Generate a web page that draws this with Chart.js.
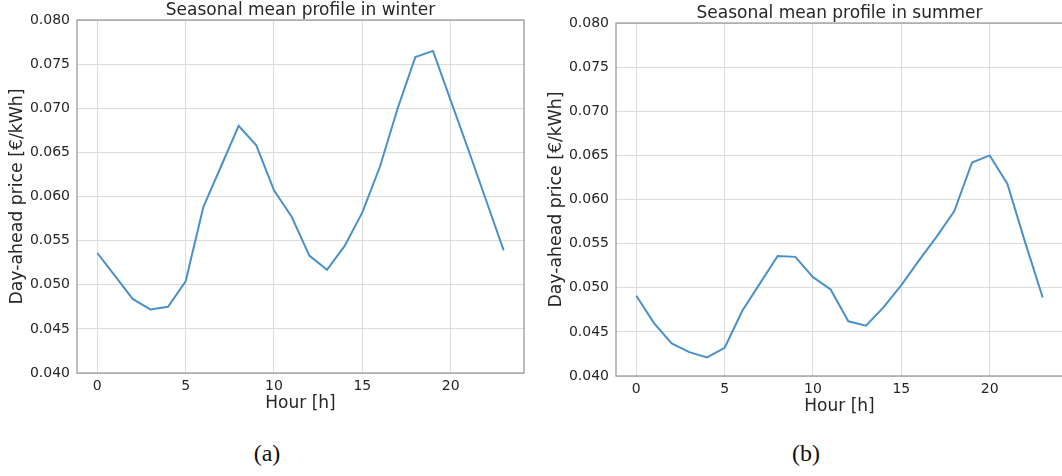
<!DOCTYPE html>
<html>
<head>
<meta charset="utf-8">
<script src="https://cdn.jsdelivr.net/npm/chart.js@4.4.1/dist/chart.umd.min.js"></script>
<style>
  html, body { margin: 0; padding: 0; background: #fff; width: 1062px; height: 476px; overflow: hidden; }
  .panel { position: absolute; width: 530px; height: 420px; }
  .caption { position: absolute; font-family: "Liberation Serif", serif; font-size: 24px; color: #111; transform: translateX(-50%); }
</style>
</head>
<body>
<div class="panel" style="left:0px; top:0px;"><canvas id="winter" width="530" height="420"></canvas></div>
<div class="panel" style="left:539px; top:3px;"><canvas id="summer" width="530" height="420"></canvas></div>
<div class="caption" style="left:267px; top:440px;">(a)</div>
<div class="caption" style="left:806px; top:440px;">(b)</div>
<script>
// hourly mean day-ahead prices
var hours = [0, 1, 2, 3, 4, 5, 6, 7, 8, 9, 10, 11, 12, 13, 14, 15, 16, 17, 18, 19, 20, 21, 22, 23];
var winterPrices = [0.0536, 0.0510, 0.0484, 0.0472, 0.0475, 0.0504, 0.0588, 0.0634, 0.0680, 0.0658, 0.0607, 0.0577, 0.0533, 0.0517, 0.0544, 0.0582, 0.0634, 0.0700, 0.0758, 0.0765, 0.0709, 0.0653, 0.0596, 0.0539];
var summerPrices = [0.0491, 0.0460, 0.0437, 0.0427, 0.0421, 0.0432, 0.0474, 0.0505, 0.0536, 0.0535, 0.0512, 0.0498, 0.0462, 0.0457, 0.0478, 0.0503, 0.0531, 0.0558, 0.0587, 0.0642, 0.0650, 0.0618, 0.0552, 0.0489];
var xTicks = [0, 5, 10, 15, 20];
var yTicks = [0.040, 0.045, 0.050, 0.055, 0.060, 0.065, 0.070, 0.075, 0.080];

var fontFamily = "'DejaVu Sans', sans-serif";
var textColor = "#262626";

// matplotlib draws a box all round the axes
var frame = {
    id: 'frame',
    afterDraw: function (chart) {
        var a = chart.chartArea;
        var ctx = chart.ctx;
        ctx.save();
        ctx.strokeStyle = '#9a9a9a';
        ctx.lineWidth = 1.3;
        ctx.strokeRect(a.left, a.top, a.right - a.left, a.bottom - a.top);
        ctx.restore();
    }
};

function makeChart(id, title, values) {
    var points = hours.map(function (h, i) { return { x: h, y: values[i] }; });
    return new Chart(id, {
        type: 'line',
        data: {
            datasets: [{
                data: points,
                borderColor: '#4a90c9',
                borderWidth: 2,
                pointRadius: 0,
                fill: false,
                tension: 0
            }]
        },
        plugins: [frame],
        options: {
            responsive: false,
            animation: false,
            layout: { padding: { left: 0, right: 6, top: 0, bottom: 0 } },
            plugins: {
                legend: { display: false },
                tooltip: { enabled: false },
                title: {
                    display: true,
                    text: title,
                    fullSize: false,
                    color: textColor,
                    font: { family: fontFamily, size: 17, weight: 'normal', lineHeight: 1.06 },
                    padding: { top: 2, bottom: 0 }
                }
            },
            scales: {
                x: {
                    type: 'linear',
                    min: -1.15,
                    max: 24.15,
                    afterBuildTicks: function (s) { s.ticks = xTicks.map(function (v) { return { value: v }; }); },
                    afterFit: function (s) { s.height = 47; },
                    grid: { color: '#dcdcdc', lineWidth: 1, drawTicks: false },
                    border: { display: false },
                    ticks: { color: textColor, padding: 5, font: { family: fontFamily, size: 14 } },
                    title: {
                        display: true,
                        text: 'Hour [h]',
                        color: textColor,
                        padding: { top: 6, bottom: 6 },
                        font: { family: fontFamily, size: 17 }
                    }
                },
                y: {
                    min: 0.040,
                    max: 0.080,
                    afterBuildTicks: function (s) { s.ticks = yTicks.map(function (v) { return { value: v }; }); },
                    afterFit: function (s) { s.width = 77; },
                    grid: { color: '#dcdcdc', lineWidth: 1, drawTicks: false },
                    border: { display: false },
                    ticks: {
                        color: textColor,
                        padding: 7,
                        font: { family: fontFamily, size: 14 },
                        callback: function (v) { return v.toFixed(3); }
                    },
                    title: {
                        display: true,
                        text: 'Day-ahead price [€/kWh]',
                        color: textColor,
                        padding: { top: 7, bottom: 7 },
                        font: { family: fontFamily, size: 17.3 }
                    }
                }
            }
        }
    });
}

makeChart('winter', 'Seasonal mean profile in winter', winterPrices);
makeChart('summer', 'Seasonal mean profile in summer', summerPrices);
</script>
</body>
</html>
